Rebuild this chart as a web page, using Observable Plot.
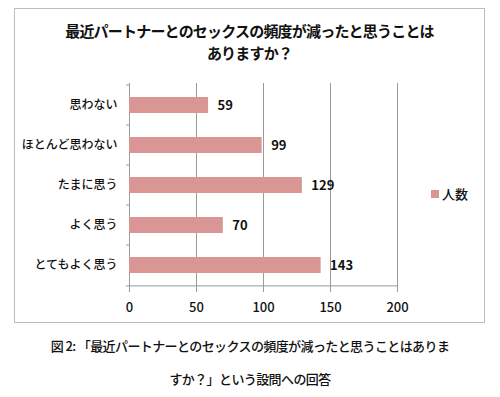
<!DOCTYPE html>
<html><head><meta charset="utf-8">
<script src="https://cdn.jsdelivr.net/npm/d3@7"></script>
<script src="https://cdn.jsdelivr.net/npm/@observablehq/plot@0.6"></script>
<style>
body{margin:0;background:#fff;font-family:"Noto Sans CJK JP",sans-serif;}
#wrap{position:relative;width:500px;height:397px;overflow:hidden;}
#box{position:absolute;left:14px;top:8px;border:1.5px solid #bdbdbd;box-sizing:border-box;width:471px;height:315px;}
#title{position:absolute;left:14px;width:471px;top:20px;text-align:center;font-weight:bold;font-size:15px;letter-spacing:-0.8px;line-height:22px;color:#111;}
#chart{position:absolute;left:0;top:0;}
#legend{position:absolute;left:431px;top:184px;font-size:13px;font-weight:500;color:#111;display:flex;align-items:center;}
#legend span.sw{display:inline-block;width:8px;height:8px;background:#d99694;margin-right:3px;}
#caption{position:absolute;left:0;width:500px;top:329px;text-align:center;font-size:13px;letter-spacing:-0.6px;font-weight:500;line-height:33px;color:#111;}
</style></head>
<body><div id="wrap">
<div id="box"></div>
<div id="title">最近パートナーとのセックスの頻度が減ったと思うことは<br>ありますか？</div>
<div id="chart"></div>
<div id="legend"><span class="sw"></span>人数</div>
<div id="caption">図 2: 「最近パートナーとのセックスの頻度が減ったと思うことはありま<br>すか？」という設問への回答</div>
</div>
<script>
const categories = ["思わない", "ほとんど思わない", "たまに思う", "よく思う", "とてもよく思う"];
const values = [59, 99, 129, 70, 143];
const xTicks = [0, 50, 100, 150, 200];
const seriesName = "人数";

const data = categories.map((c, i) => ({cat: c, v: values[i]}));
const plotTop = 83, plotBottom = 287;
const step = (plotBottom - plotTop) / categories.length;
const gray = "#9a9a9a";

const chart = Plot.plot({
  width: 500, height: 330,
  marginLeft: 129, marginRight: 103, marginTop: plotTop, marginBottom: 330 - plotBottom,
  style: {fontFamily: '"Noto Sans CJK JP", sans-serif', fontSize: "13px", color: "#111", background: "transparent", overflow: "visible"},
  x: {domain: [0, 200], ticks: xTicks, label: null},
  y: {domain: categories, paddingInner: 0.6, paddingOuter: 0.3, label: null},
  marks: [
    Plot.ruleX(xTicks, {x: d => d, stroke: gray, strokeWidth: 1}),
    Plot.ruleY([categories[categories.length-1]], {y: d => d, x1: 0, x2: 200, dy: step/2, stroke: gray}),
    Plot.ruleY(categories, {y: d => d, x1: -2.3, x2: 0, dy: -step/2, stroke: gray}),
    Plot.ruleY([categories[categories.length-1]], {y: d => d, x1: -2.3, x2: 0, dy: step/2, stroke: gray}),
    Plot.barX(data, {x: "v", y: "cat", fill: "#d99694"}),
    Plot.text(data, {x: "v", y: "cat", text: d => String(d.v), textAnchor: "start", dx: 9, fontWeight: "bold", fontSize: 13, fill: "#111"}),
    Plot.axisY({tickSize: 0, tickPadding: 12, fontSize: 12, fontWeight: 500, label: null}),
    Plot.axisX({tickSize: 5, tickPadding: 10, stroke: gray, fontSize: 13, fontWeight: 500, label: null, fill: "#111"})
  ]
});
document.getElementById("chart").appendChild(chart);
</script>
</body></html>
